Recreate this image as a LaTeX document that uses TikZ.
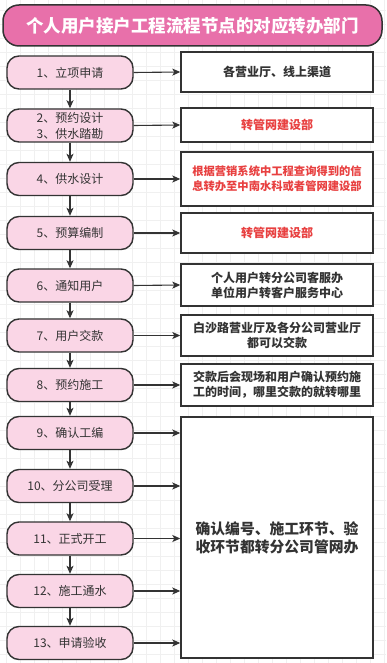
\documentclass[tikz,border=0pt]{standalone}
\usepackage{fontspec}
\setmainfont{Noto Sans CJK SC}
\usetikzlibrary{arrows.meta}
\definecolor{ttlpink}{RGB}{232,112,170}
\definecolor{steppink}{RGB}{250,214,230}
\definecolor{edgegray}{RGB}{51,51,51}
\definecolor{deptred}{RGB}{232,64,64}
\definecolor{gridgray}{RGB}{240,240,240}

\tikzset{
  stepnode/.style={draw=edgegray, fill=steppink, line width=1.4pt,
    rounded corners=12pt, minimum width=126pt, minimum height=33pt,
    inner sep=0pt, align=center, text=edgegray,
    font=\fontsize{12}{16}\selectfont},
  deptbox/.style={draw=edgegray, fill=white, line width=1.4pt,
    minimum width=192pt, inner sep=0pt, align=center, text=edgegray,
    font=\bfseries\fontsize{12}{15}\selectfont},
  redtext/.style={text=deptred},
  flowarrow/.style={draw=edgegray, line width=1.1pt,
    -{Stealth[length=8pt,width=7pt,inset=2pt]}},
}

\begin{document}
\begin{tikzpicture}[x=1pt, y=-1pt]
  \useasboundingbox (0,0) rectangle (386,663);
  \fill[white] (0,0) rectangle (386,663);
  % faint background grid
  \foreach \gx in {6,20,...,386}
    \draw[gridgray, line width=0.6pt] (\gx,0) -- (\gx,663);
  \foreach \gy in {10,24,...,663}
    \draw[gridgray, line width=0.6pt] (0,\gy) -- (386,\gy);

  % title bar
  \node[draw=edgegray, fill=ttlpink, line width=1.5pt, rounded corners=16pt,
        minimum width=379pt, minimum height=41pt, inner sep=0pt, text=white,
        font=\bfseries\fontsize{17.5}{20}\selectfont]
    (title) at (192.5,25.5) {个人用户接户工程流程节点的对应转办部门};

  % process steps
  \node[stepnode] (s1)  at (70,72.5)  {1、立项申请};
  \node[stepnode] (s2)  at (70,125.5) {2、预约设计\\3、供水踏勘};
  \node[stepnode] (s4)  at (70,179)   {4、供水设计};
  \node[stepnode] (s5)  at (70,233)   {5、预算编制};
  \node[stepnode] (s6)  at (70,285.5) {6、通知用户};
  \node[stepnode] (s7)  at (70,335.5) {7、用户交款};
  \node[stepnode] (s8)  at (70,385)   {8、预约施工};
  \node[stepnode] (s9)  at (70,433)   {9、确认工编};
  \node[stepnode] (s10) at (70,486)   {10、分公司受理};
  \node[stepnode] (s11) at (70,538.5) {11、正式开工};
  \node[stepnode] (s12) at (70,591)   {12、施工通水};
  \node[stepnode] (s13) at (70,643)   {13、申请验收};

  % departments
  \node[deptbox, minimum height=40pt] (d1) at (277,72) {各营业厅、线上渠道};
  \node[deptbox, redtext, minimum height=34pt] (d2) at (277,125)
    {转管网建设部};
  \node[deptbox, redtext, minimum height=54pt,
        font=\bfseries\fontsize{11.3}{15}\selectfont] (d4) at (277,179)
    {根据营销系统中工程查询得到的信\\息转办至中南水科或者管网建设部};
  \node[deptbox, redtext, minimum height=40pt] (d5) at (277,233)
    {转管网建设部};
  \node[deptbox, minimum height=42pt] (d6) at (277,285)
    {个人用户转分公司客服办\\单位用户转客户服务中心};
  \node[deptbox, minimum height=41pt] (d7) at (277,335.5)
    {白沙路营业厅及各分公司营业厅\\都可以交款};
  \node[deptbox, minimum height=42pt] (d8) at (277,385)
    {交款后会现场和用户确认预约施\\工的时间，哪里交款的就转哪里};
  \node[deptbox, minimum height=241pt,
        font=\bfseries\fontsize{14.8}{18}\selectfont] (big) at (277,537.5)
    {确认编号、施工环节、验\\收环节都转分公司管网办};

  % downward flow
  \foreach \a/\b in {s1/s2, s2/s4, s4/s5, s5/s6, s6/s7, s7/s8,
                     s8/s9, s9/s10, s10/s11, s11/s12, s12/s13}
    \draw[flowarrow] (\a.south) -- (\b.north);

  % hand-over arrows
  \foreach \a/\b in {s1/d1, s2/d2, s4/d4, s5/d5, s6/d6, s7/d7, s8/d8}
    \draw[flowarrow] (\a.east) -- (\b.west);
  \foreach \a in {s9, s10, s11, s12, s13}
    \draw[flowarrow] (\a.east) -- (\a.east -| big.west);
\end{tikzpicture}
\end{document}
